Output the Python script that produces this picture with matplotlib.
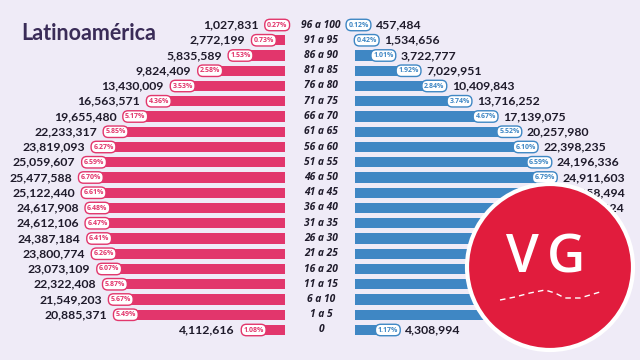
import matplotlib
matplotlib.use("Agg")
import matplotlib.pyplot as plt
from matplotlib.patches import Circle

age_labels = ["0", "1 a 5", "6 a 10", "11 a 15", "16 a 20", "21 a 25", "26 a 30",
              "31 a 35", "36 a 40", "41 a 45", "46 a 50", "51 a 55", "56 a 60",
              "61 a 65", "66 a 70", "71 a 75", "76 a 80", "81 a 85", "86 a 90",
              "91 a 95", "96 a 100"]
women = [4112616, 20885371, 21549203, 22322408, 23073109, 23800774, 24387184,
         24612106, 24617908, 25122440, 25477588, 25059607, 23819093, 22233317,
         19655480, 16563571, 13430009, 9824409, 5835589, 2772199, 1027831]
women_pct = ["1.08%", "5.49%", "5.67%", "5.87%", "6.07%", "6.26%", "6.41%",
             "6.47%", "6.48%", "6.61%", "6.70%", "6.59%", "6.27%", "5.85%",
             "5.17%", "4.36%", "3.53%", "2.58%", "1.53%", "0.73%", "0.27%"]
men = [4308994, 21830512, 22410245, 23098731, 23531284, 24042317, 24391562,
       24488930, 24824624, 24958494, 24911603, 24196336, 22398235, 20257980,
       17139075, 13716252, 10409843, 7029951, 3722777, 1534656, 457484]
men_pct = ["1.17%", "5.95%", "6.11%", "6.29%", "6.41%", "6.55%", "6.65%",
           "6.67%", "6.76%", "6.80%", "6.79%", "6.59%", "6.10%", "5.52%",
           "4.67%", "3.74%", "2.84%", "1.92%", "1.01%", "0.42%", "0.12%"]
title = "Latinoamérica"

BG = "#efebf7"
PINK = "#e2366c"
BLUE = "#3f87c4"
DARK = "#1f1b2b"

W, H = 640, 360
fig = plt.figure(figsize=(6.4, 3.6), dpi=100, facecolor=BG)

px_per_m = 7.62
row_px = 15.25
ymin = -30 / row_px
ymax = ymin + H / row_px
xmax = 285 / px_per_m * 1e6

axL = fig.add_axes([0, 0, 285 / W, 1])
axR = fig.add_axes([355 / W, 0, 285 / W, 1])
for ax in (axL, axR):
    ax.set_facecolor("none")
    ax.set_ylim(ymin, ymax)
    ax.set_xlim(0, xmax)
    ax.axis("off")
axL.invert_xaxis()

ys = list(range(len(age_labels)))
axL.barh(ys, women, height=0.66, color=PINK)
axR.barh(ys, men, height=0.66, color=BLUE)

fam = ["Open Sans", "DejaVu Sans"]
vfam = ["Lato", "DejaVu Sans"]
pill = "round,pad=0.32,rounding_size=0.75"
for y, v, p in zip(ys, women, women_pct):
    axL.text(v, y, p, ha="center", va="center", fontsize=5, color=PINK,
             family=fam, fontweight="bold",
             bbox=dict(boxstyle=pill, fc="white", ec=PINK, lw=1.0))
    axL.annotate(f"{v:,}", (v, y), xytext=(-13.5, 0), textcoords="offset points",
                 ha="right", va="center", fontsize=8.8, color=DARK,
                 family=vfam, fontweight="bold")
for y, v, p in zip(ys, men, men_pct):
    axR.text(v, y, p, ha="center", va="center", fontsize=5, color=BLUE,
             family=fam, fontweight="bold",
             bbox=dict(boxstyle=pill, fc="white", ec=BLUE, lw=1.0))
    axR.annotate(f"{v:,}", (v, y), xytext=(12.5, 0), textcoords="offset points",
                 ha="left", va="center", fontsize=8.8, color=DARK,
                 family=vfam, fontweight="bold")

for y, lab in zip(ys, age_labels):
    axL.annotate(lab, (0, y), xytext=(36 / 1.389, 0), textcoords="offset points",
                 ha="center", va="center", fontsize=7.4, color=DARK,
                 family=fam, fontweight="bold", fontstyle="italic")

fig.text(21 / W, 1 - 33 / H, title, ha="left", va="center", fontsize=15.5,
         color="#3a2c58", family=["Lato", "DejaVu Sans"], fontweight="bold")

# logo overlay
axO = fig.add_axes([0, 0, 1, 1])
axO.set_xlim(0, W)
axO.set_ylim(0, H)
axO.axis("off")
axO.set_facecolor("none")
axO.add_patch(Circle((550, H - 267), 83, fc="#e11c3d", ec="white", lw=3, zorder=5))
axO.text(522, H - 259, "V", ha="center", va="center", fontsize=38, color="white",
         family=fam, fontweight="semibold", zorder=6)
axO.text(566, H - 259, "G", ha="center", va="center", fontsize=38, color="white",
         family=fam, fontweight="semibold", zorder=6)
wx = [500, 515, 530, 545, 555, 565, 580, 600]
wy = [300, 297, 293, 290, 293, 298, 298, 292]
axO.plot(wx, [H - v for v in wy], color="white", lw=1, ls=(0, (4, 3)), zorder=6)

fig.savefig("out.png", dpi=100, facecolor=BG)
